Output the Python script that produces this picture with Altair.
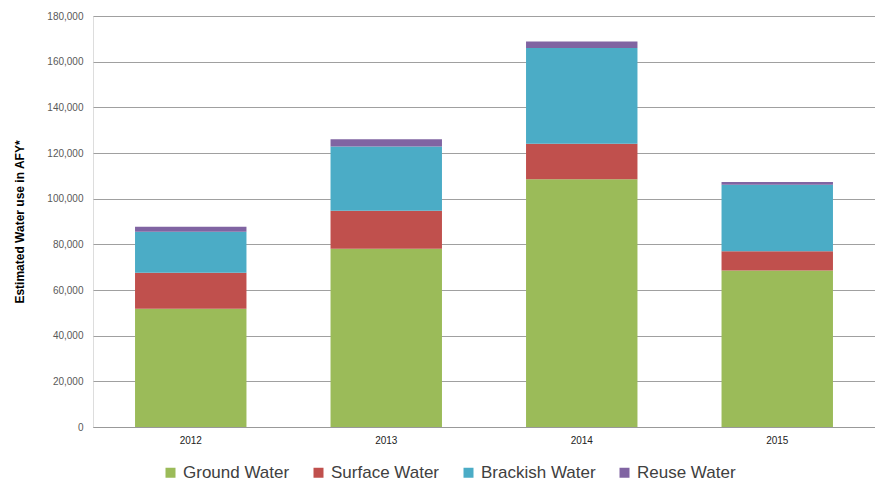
import altair as alt
import pandas as pd

years = ["2012", "2013", "2014", "2015"]
series = ["Ground Water", "Surface Water", "Brackish Water", "Reuse Water"]
ground = [51800, 78100, 108500, 68500]
surface = [15800, 16600, 15500, 8500]
brackish = [17900, 28100, 42000, 29100]
reuse = [2200, 3200, 2800, 1200]
colors = ["#9BBB59", "#C0504D", "#4BACC6", "#8064A2"]

rows = []
for i, s in enumerate(series):
    vals = [ground, surface, brackish, reuse][i]
    for y, v in zip(years, vals):
        rows.append({"Year": y, "Source": s, "Value": v, "order": i})
df = pd.DataFrame(rows)

FONT = "Liberation Sans"

chart = alt.Chart(df).mark_bar().encode(
    x=alt.X("Year:N", title=None, sort=years,
            scale=alt.Scale(paddingInner=0.43, paddingOuter=0.215),
            axis=alt.Axis(labelAngle=0, labelFontSize=10, labelColor="#222222",
                          labelFont=FONT, labelPadding=8, ticks=False,
                          domainColor="#999999", domainWidth=1, grid=False)),
    y=alt.Y("Value:Q", title="Estimated Water use in AFY*",
            scale=alt.Scale(domain=[0, 180000], nice=False),
            axis=alt.Axis(values=list(range(0, 180001, 20000)), format=",.0f",
                          labelFontSize=10, labelColor="#595959", labelFont=FONT,
                          labelPadding=10, ticks=False, domain=False,
                          gridColor="#A0A0A0", gridWidth=1,
                          titleFont=FONT, titleFontSize=12, titleFontWeight="bold",
                          titleColor="#000000", titlePadding=20)),
    color=alt.Color("Source:N", sort=series,
                    scale=alt.Scale(domain=series, range=colors),
                    legend=alt.Legend(title=None, orient="none", direction="horizontal",
                                      legendX=69, legendY=448,
                                      symbolType="square", symbolSize=100,
                                      symbolStrokeWidth=0,
                                      labelFontSize=17, labelFont=FONT,
                                      labelColor="#404040", columnPadding=20,
                                      labelOffset=4)),
    order=alt.Order("order:Q", sort="ascending"),
).properties(
    width=782, height=411,
    autosize=alt.AutoSizeParams(type="none"),
    padding={"left": 85, "top": 8, "right": 0, "bottom": 56},
).configure_view(stroke=None).configure(background="white")

chart.save("out.html", embed_options={"renderer": "svg", "actions": False})
